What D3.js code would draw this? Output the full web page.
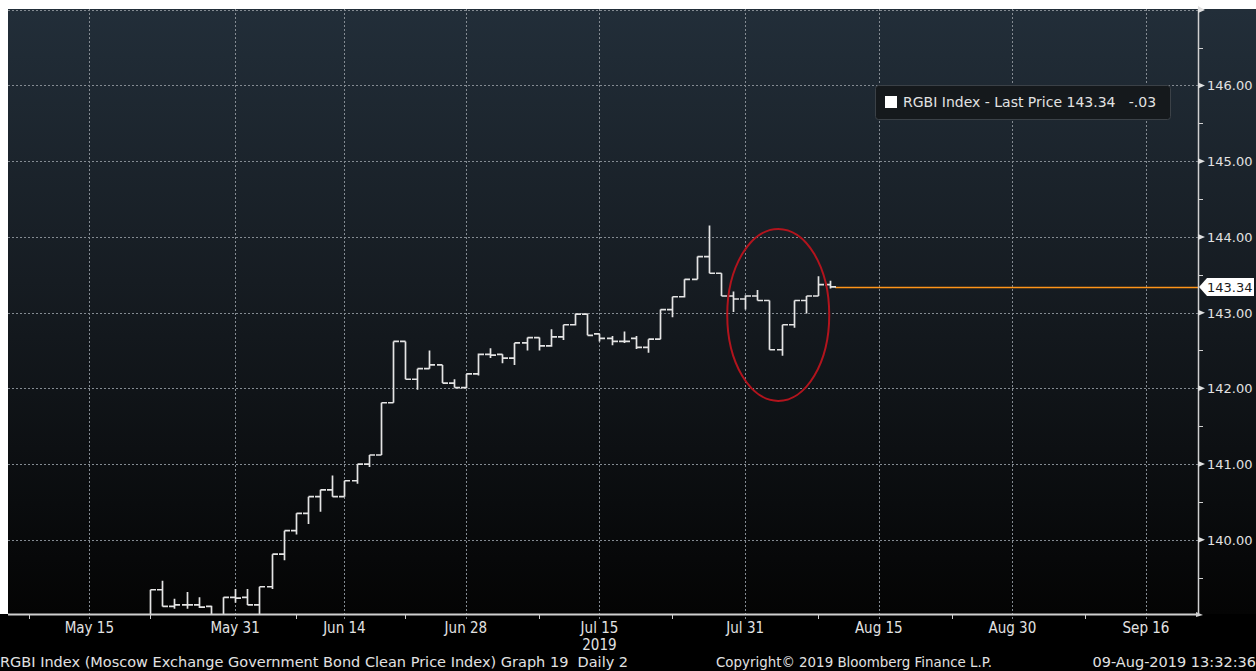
<!DOCTYPE html>
<html lang="en">
	<head>
		<meta charset="utf-8">
		<title>RGBI Index - Last Price</title>
		<script type="text/javascript" src="https://cdn.jsdelivr.net/npm/d3@7"></script>
		<style type="text/css">
			body { margin: 0; background: #000; }
			svg { display: block; }
			.lbl { font-family: "DejaVu Sans Condensed", "DejaVu Sans", sans-serif; font-size: 15px; fill: #e2e2e2; }
			.foot { font-family: "DejaVu Sans", sans-serif; font-size: 14.5px; fill: #e2e2e2; }
			.ylbl { font-family: "DejaVu Sans", sans-serif; font-size: 13px; fill: #e2e2e2; }
		</style>
	</head>
	<body>
		<script type="text/javascript">

			//Width and height
			var w = 1256;
			var h = 671;

			//Daily bars
			var dates = ["2019-05-22", "2019-05-23", "2019-05-24", "2019-05-27", "2019-05-28", "2019-05-29", "2019-05-30", "2019-05-31",
						 "2019-06-03", "2019-06-04", "2019-06-05", "2019-06-06", "2019-06-07", "2019-06-10", "2019-06-11", "2019-06-13",
						 "2019-06-14", "2019-06-17", "2019-06-18", "2019-06-19", "2019-06-20", "2019-06-21", "2019-06-24", "2019-06-25",
						 "2019-06-26", "2019-06-27", "2019-06-28", "2019-07-01", "2019-07-02", "2019-07-03", "2019-07-04", "2019-07-05",
						 "2019-07-08", "2019-07-09", "2019-07-10", "2019-07-11", "2019-07-12", "2019-07-15", "2019-07-16", "2019-07-17",
						 "2019-07-18", "2019-07-19", "2019-07-22", "2019-07-23", "2019-07-24", "2019-07-25", "2019-07-26", "2019-07-29",
						 "2019-07-30", "2019-07-31", "2019-08-01", "2019-08-02", "2019-08-05", "2019-08-06", "2019-08-07", "2019-08-08",
						 "2019-08-09"];
			var open  = [138.95, 139.34, 139.12, 139.14, 139.14, 139.12, 138.98, 139.24,
						 139.24, 139.14, 139.38, 139.81, 140.12, 140.35, 140.57, 140.66,
						 140.57, 140.78, 141.00, 141.12, 141.81, 142.62, 142.12, 142.26,
						 142.31, 142.07, 142.01, 142.19, 142.45, 142.45, 142.40, 142.60,
						 142.67, 142.56, 142.68, 142.84, 142.98, 142.72, 142.66, 142.62,
						 142.66, 142.54, 142.65, 143.04, 143.21, 143.44, 143.74, 143.52,
						 143.22, 143.18, 143.22, 143.16, 142.51, 142.84, 143.16, 143.22,
						 143.37];
			var high  = [139.34, 139.46, 139.22, 139.31, 139.24, 139.13, 139.24, 139.35,
						 139.35, 139.38, 139.81, 140.12, 140.35, 140.57, 140.66, 140.85,
						 140.78, 141.00, 141.12, 141.81, 142.62, 142.62, 142.26, 142.50,
						 142.31, 142.12, 142.19, 142.46, 142.53, 142.45, 142.60, 142.67,
						 142.67, 142.78, 142.84, 142.99, 142.99, 142.72, 142.69, 142.75,
						 142.69, 142.65, 143.04, 143.21, 143.44, 143.74, 144.15, 143.52,
						 143.28, 143.23, 143.30, 143.16, 142.84, 143.16, 143.22, 143.48,
						 143.42];
			var low   = [138.90, 139.12, 139.09, 139.09, 139.10, 138.95, 138.95, 139.17,
						 139.14, 138.98, 139.35, 139.73, 140.07, 140.21, 140.37, 140.57,
						 140.57, 140.74, 140.96, 141.12, 141.81, 142.12, 141.98, 142.26,
						 142.07, 142.01, 142.00, 142.17, 142.40, 142.33, 142.31, 142.50,
						 142.50, 142.55, 142.64, 142.83, 142.70, 142.62, 142.57, 142.60,
						 142.52, 142.47, 142.65, 142.94, 143.20, 143.44, 143.52, 143.22,
						 143.01, 143.04, 143.16, 142.51, 142.43, 142.80, 142.99, 143.22,
						 143.32];
			var close = [139.34, 139.12, 139.14, 139.14, 139.11, 138.98, 139.24, 139.23,
						 139.14, 139.38, 139.81, 140.12, 140.35, 140.57, 140.66, 140.57,
						 140.78, 141.00, 141.12, 141.81, 142.62, 142.12, 142.26, 142.31,
						 142.07, 142.01, 142.19, 142.45, 142.44, 142.40, 142.60, 142.67,
						 142.56, 142.68, 142.84, 142.98, 142.70, 142.66, 142.62, 142.62,
						 142.54, 142.65, 143.04, 143.21, 143.44, 143.74, 143.52, 143.22,
						 143.18, 143.22, 143.16, 142.51, 142.84, 143.16, 143.22, 143.37,
						 143.34];

			//Axis ticks
			var yTicks = [140, 141, 142, 143, 144, 145, 146];
			var yMinorTicks = [139.5, 140.5, 141.5, 142.5, 143.5, 144.5, 145.5, 146.5];
			var xTickDates = ["2019-05-15", "2019-05-31", "2019-06-14", "2019-06-28", "2019-07-15",
							  "2019-07-31", "2019-08-15", "2019-08-30", "2019-09-16"];
			var xTickLabels = ["May 15", "May 31", "Jun 14", "Jun 28", "Jul 15", "Jul 31", "Aug 15", "Aug 30", "Sep 16"];
			var xMinorDates = ["2019-05-06", "2019-05-22", "2019-06-07", "2019-06-21", "2019-07-08",
							   "2019-07-23", "2019-08-08", "2019-08-23", "2019-09-09"];
			//Moscow exchange closed days
			var holidays = ["2019-05-01", "2019-05-02", "2019-05-03", "2019-05-09", "2019-05-10", "2019-06-12"];

			//Plot box
			var pLeft = 8, pTop = 9, pRight = 1198, pBottom = 614;

			//Trading day calendar (weekends and holidays skipped)
			var fmt = d3.timeFormat("%Y-%m-%d");
			var tradingDays = d3.timeDays(new Date(2019, 3, 29), new Date(2019, 9, 1))
				.filter(function(d) {
					return d.getDay() != 0 && d.getDay() != 6 && holidays.indexOf(fmt(d)) < 0;
				})
				.map(fmt);
			var dayIndex = function(s) {
				return tradingDays.indexOf(s);
			};

			var base = dayIndex("2019-05-31");
			var xScale = d3.scaleLinear()
							.domain([base - 18.7, base + 79.2])
							.range([pLeft, pRight - 1]);

			var yScale = d3.scaleLinear()
							.domain([139.02, 147.01])
							.range([pBottom, pTop]);

			var bars = dates.map(function(d, i) {
				return { date: d, o: open[i], h: high[i], l: low[i], c: close[i] };
			});
			var last = close[close.length - 1];
			var change = last - close[close.length - 2];
			var changeText = (change < 0 ? "-" : "") + Math.abs(change).toFixed(2).replace(/^0/, "");

			//Create SVG element
			var svg = d3.select("body")
						.append("svg")
						.attr("width", w)
						.attr("height", h);

			var defs = svg.append("defs");
			var grad = defs.append("linearGradient")
						.attr("id", "bg")
						.attr("x1", 0).attr("y1", 0)
						.attr("x2", 0).attr("y2", 1);
			grad.append("stop").attr("offset", "0%").attr("stop-color", "#222e39");
			grad.append("stop").attr("offset", "45%").attr("stop-color", "#161c22");
			grad.append("stop").attr("offset", "100%").attr("stop-color", "#040404");

			defs.append("clipPath")
				.attr("id", "plot")
				.append("rect")
				.attr("x", pLeft)
				.attr("y", pTop)
				.attr("width", pRight - pLeft)
				.attr("height", pBottom - pTop);

			//Background
			svg.append("rect")
			   .attr("width", w)
			   .attr("height", h)
			   .attr("fill", "#000");
			svg.append("rect")
			   .attr("width", w)
			   .attr("height", pTop)
			   .attr("fill", "#fff");
			svg.append("rect")
			   .attr("y", pTop)
			   .attr("width", pLeft)
			   .attr("height", pBottom - pTop)
			   .attr("fill", "#fff");
			svg.append("rect")
			   .attr("x", pLeft)
			   .attr("y", pTop)
			   .attr("width", w - pLeft)
			   .attr("height", pBottom - pTop)
			   .attr("fill", "url(#bg)");

			//Gridlines
			svg.selectAll(".hgrid")
			   .data(yTicks.concat([147]))
			   .enter()
			   .append("line")
			   .attr("class", "hgrid")
			   .attr("x1", pLeft)
			   .attr("x2", pRight)
			   .attr("y1", function(d) { return Math.round(yScale(d)) + 0.5; })
			   .attr("y2", function(d) { return Math.round(yScale(d)) + 0.5; })
			   .attr("stroke", "#848b92")
			   .attr("stroke-dasharray", "2,2");

			svg.selectAll(".vgrid")
			   .data(xTickDates)
			   .enter()
			   .append("line")
			   .attr("class", "vgrid")
			   .attr("x1", function(d) { return Math.round(xScale(dayIndex(d))) + 0.5; })
			   .attr("x2", function(d) { return Math.round(xScale(dayIndex(d))) + 0.5; })
			   .attr("y1", pTop)
			   .attr("y2", pBottom + 7)
			   .attr("stroke", "#848b92")
			   .attr("stroke-dasharray", "2,2");

			var plot = svg.append("g").attr("clip-path", "url(#plot)");

			//Last price line
			plot.append("line")
				.attr("x1", xScale(dayIndex(dates[dates.length - 1])) + 5)
				.attr("x2", pRight)
				.attr("y1", Math.round(yScale(last)) + 0.5)
				.attr("y2", Math.round(yScale(last)) + 0.5)
				.attr("stroke", "#ff9419")
				.attr("stroke-width", 1.4);

			//Create bars
			plot.selectAll(".bar")
				.data(bars)
				.enter()
				.append("path")
				.attr("class", "bar")
				.attr("d", function(d) {
					var x = Math.round(xScale(dayIndex(d.date))) + 0.5;
					return "M" + (x - 5.5) + "," + yScale(d.o) + "H" + x +
						   "M" + x + "," + yScale(d.h) + "V" + yScale(d.l) +
						   "M" + x + "," + yScale(d.c) + "H" + (x + 5.5);
				})
				.attr("fill", "none")
				.attr("stroke", "#e4e4e4")
				.attr("stroke-width", 1.7);

			//Red circle note
			svg.append("ellipse")
			   .attr("cx", xScale(dayIndex("2019-08-02") + 0.72))
			   .attr("cy", yScale(142.97))
			   .attr("rx", 51)
			   .attr("ry", 86)
			   .attr("fill", "none")
			   .attr("stroke", "#b2141d")
			   .attr("stroke-width", 2);

			//Y axis
			svg.append("line")
			   .attr("x1", pRight + 0.5).attr("x2", pRight + 0.5)
			   .attr("y1", pTop).attr("y2", pBottom)
			   .attr("stroke", "#d0d0d0")
			   .attr("stroke-width", 1.5);
			svg.append("path")
			   .attr("d", "M" + pRight + "," + (pTop - 3) + "L" + (pRight + 7) + "," + (pTop + 1) + "L" + pRight + "," + (pTop + 4) + "Z")
			   .attr("fill", "#e0e0e0");

			svg.selectAll(".ymark")
			   .data(yTicks)
			   .enter()
			   .append("path")
			   .attr("class", "ymark")
			   .attr("d", function(d) {
					var y = yScale(d);
					return "M" + pRight + "," + (y - 3) + "L" + (pRight + 7) + "," + y + "L" + pRight + "," + (y + 3) + "Z";
			   })
			   .attr("fill", "#e0e0e0");

			svg.selectAll(".yminor")
			   .data(yMinorTicks)
			   .enter()
			   .append("line")
			   .attr("class", "yminor")
			   .attr("x1", pRight)
			   .attr("x2", pRight + 5)
			   .attr("y1", function(d) { return Math.round(yScale(d)) + 0.5; })
			   .attr("y2", function(d) { return Math.round(yScale(d)) + 0.5; })
			   .attr("stroke", "#d0d0d0");

			svg.selectAll(".ylbl")
			   .data(yTicks)
			   .enter()
			   .append("text")
			   .attr("class", "ylbl")
			   .attr("x", pRight + 9)
			   .attr("y", function(d) { return yScale(d) + 5; })
			   .text(function(d) { return d3.format(".2f")(d); });

			//Last price tag
			var ly = yScale(last);
			svg.append("path")
			   .attr("d", "M" + (pRight + 1) + "," + ly + "L" + (pRight + 9) + "," + (ly - 9) + "H" + (w - 2) +
						  "V" + (ly + 9) + "H" + (pRight + 9) + "Z")
			   .attr("fill", "#ffffff");
			svg.append("text")
			   .attr("class", "ylbl")
			   .attr("x", pRight + 9)
			   .attr("y", ly + 5)
			   .style("fill", "#1a1a1a")
			   .text(d3.format(".2f")(last));

			//X axis
			svg.append("line")
			   .attr("x1", pLeft).attr("x2", pRight)
			   .attr("y1", pBottom + 0.5).attr("y2", pBottom + 0.5)
			   .attr("stroke", "#cfcfcf")
			   .attr("stroke-width", 2);
			svg.append("path")
			   .attr("d", "M" + (pRight - 2) + "," + (pBottom - 2) + "L" + (pRight + 5) + "," + (pBottom + 1) + "L" + (pRight - 2) + "," + (pBottom + 3) + "Z")
			   .attr("fill", "#cfcfcf");

			svg.selectAll(".xminor")
			   .data(xMinorDates)
			   .enter()
			   .append("line")
			   .attr("class", "xminor")
			   .attr("x1", function(d) { return Math.round(xScale(dayIndex(d))) + 0.5; })
			   .attr("x2", function(d) { return Math.round(xScale(dayIndex(d))) + 0.5; })
			   .attr("y1", pBottom)
			   .attr("y2", pBottom + 5)
			   .attr("stroke", "#cfcfcf");

			svg.selectAll(".xlbl")
			   .data(xTickDates)
			   .enter()
			   .append("text")
			   .attr("class", "lbl")
			   .attr("text-anchor", "middle")
			   .attr("x", function(d) { return xScale(dayIndex(d)); })
			   .attr("y", 633)
			   .text(function(d, i) { return xTickLabels[i]; });

			svg.append("text")
			   .attr("class", "lbl")
			   .attr("text-anchor", "middle")
			   .attr("x", xScale(dayIndex("2019-07-15")))
			   .attr("y", 650)
			   .text("2019");

			//Legend
			var legend = svg.append("g").attr("transform", "translate(875,85)");
			legend.append("rect")
				  .attr("x", 0.5).attr("y", 0.5)
				  .attr("width", 295).attr("height", 34)
				  .attr("rx", 3)
				  .attr("fill", "#15191c")
				  .attr("stroke", "#3b4147");
			legend.append("rect")
				  .attr("x", 10).attr("y", 11)
				  .attr("width", 12).attr("height", 12)
				  .attr("fill", "#ffffff");
			legend.append("text")
				  .attr("class", "ylbl")
				  .attr("x", 28)
				  .attr("y", 22)
				  .style("font-size", "14px")
				  .attr("xml:space", "preserve")
				  .text("RGBI Index - Last Price " + d3.format(".2f")(last) + "   " + changeText);

			//Footer
			svg.append("text")
			   .attr("class", "foot")
			   .attr("x", 0)
			   .attr("y", 667)
			   .attr("xml:space", "preserve")
			   .text("RGBI Index (Moscow Exchange Government Bond Clean Price Index) Graph 19  Daily 2");
			svg.append("text")
			   .attr("class", "foot")
			   .attr("x", 716)
			   .attr("y", 667)
			   .style("font-size", "13.4px")
			   .text("Copyright\u00a9 2019 Bloomberg Finance L.P.");
			svg.append("text")
			   .attr("class", "foot")
			   .attr("text-anchor", "end")
			   .attr("x", w)
			   .attr("y", 667)
			   .text("09-Aug-2019 13:32:36");

		</script>
	</body>
</html>
